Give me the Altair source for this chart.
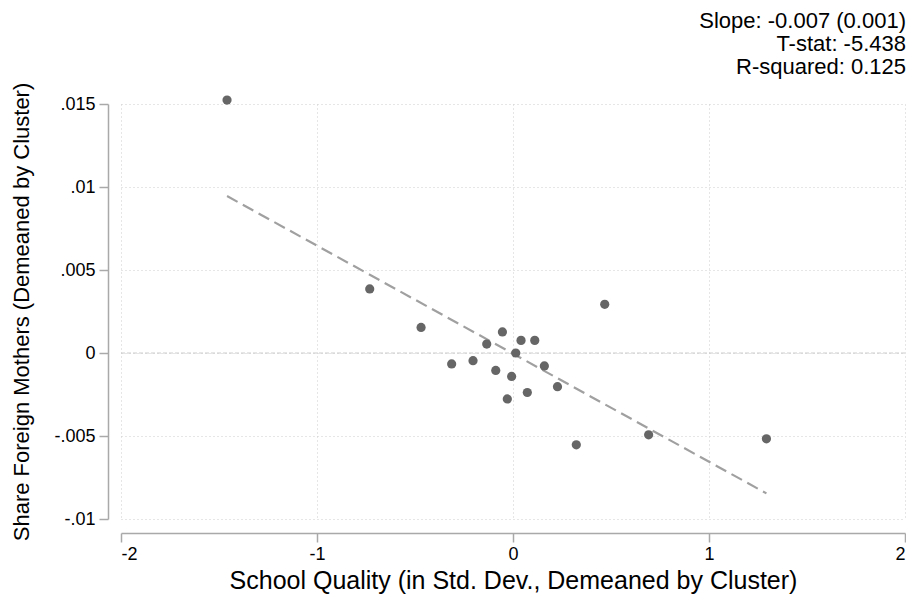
import altair as alt
import pandas as pd

# Data
school_quality = [-1.459, -0.731, -0.469, -0.313, -0.204, -0.134, -0.088, -0.054,
                  -0.029, -0.007, 0.014, 0.041, 0.073, 0.111, 0.160, 0.227,
                  0.323, 0.468, 0.692, 1.293]
share_foreign = [0.01524, 0.00386, 0.00154, -0.00066, -0.00046, 0.00054, -0.00105,
                 0.00127, -0.00277, -0.00141, 0.0, 0.00076, -0.00238, 0.00076,
                 -0.00078, -0.00203, -0.00553, 0.00293, -0.00493, -0.00517]
stats_lines = ["Slope: -0.007 (0.001)", "T-stat: -5.438", "R-squared: 0.125"]
x_ticks = [-2, -1, 0, 1, 2]
y_ticks = [-0.01, -0.005, 0, 0.005, 0.01, 0.015]
zero_line = [0]

FONT = "Liberation Sans"
AXIS_GRAY = "#a9a9a9"
GRID_GRAY = "#cccccc"

df = pd.DataFrame({"x": school_quality, "y": share_foreign})
zdf = pd.DataFrame({"y": zero_line})

xscale = alt.Scale(domain=[-2, 2], nice=False, zero=False)
yscale = alt.Scale(domain=[-0.01, 0.015], nice=False, zero=False)

xaxis = alt.Axis(
    values=x_ticks,
    title="School Quality (in Std. Dev., Demeaned by Cluster)",
    labelExpr="toString(datum.value)",
    offset=14, tickSize=9, tickWidth=1.5, domainWidth=1.5,
    domainColor=AXIS_GRAY, tickColor=AXIS_GRAY,
    grid=True, gridColor=GRID_GRAY, gridDash=[1, 3], gridWidth=1,
    labelFont=FONT, labelFontSize=18, labelColor="#000000", labelPadding=3,
    titleFont=FONT, titleFontSize=25, titleFontWeight="normal", titleColor="#000000",
    titleBaseline="alphabetic", titleY=55,
)
yaxis = alt.Axis(
    values=y_ticks,
    title="Share Foreign Mothers (Demeaned by Cluster)",
    labelExpr="(datum.value < 0 ? '-' : '') + (datum.value == 0 ? '0' : substring(toString(abs(datum.value)), 1))",
    offset=13, tickSize=9, tickWidth=1.5, domainWidth=1.5,
    domainColor=AXIS_GRAY, tickColor=AXIS_GRAY,
    grid=True, gridColor=GRID_GRAY, gridDash=[1, 3], gridWidth=1,
    labelFont=FONT, labelFontSize=18, labelColor="#000000", labelPadding=4,
    titleFont=FONT, titleFontSize=22, titleFontWeight="normal", titleColor="#000000",
    titlePadding=20,
)

base = alt.Chart(df)

zero = alt.Chart(zdf).mark_rule(color=GRID_GRAY, strokeDash=[4, 2], strokeWidth=1).encode(
    y=alt.Y("y:Q", scale=yscale)
)

fit = base.transform_regression("x", "y").mark_line(
    color="#a0a0a0", strokeWidth=2.2, strokeDash=[12, 6]
).encode(
    x=alt.X("x:Q", scale=xscale, axis=xaxis),
    y=alt.Y("y:Q", scale=yscale, axis=yaxis),
)

points = base.mark_circle(size=85, color="#666666", opacity=1).encode(
    x=alt.X("x:Q", scale=xscale, axis=xaxis),
    y=alt.Y("y:Q", scale=yscale, axis=yaxis),
)

chart = alt.layer(zero, fit, points).properties(
    width=784,
    height=415,
    autosize=alt.AutoSizeParams(type="none"),
    padding={"left": 113, "top": 96, "right": 1, "bottom": 75},
    title=alt.TitleParams(
        text=stats_lines, anchor="end", align="right", font=FONT, fontSize=22,
        fontWeight="normal", color="#000000", lineHeight=23, offset=3, dx=1,
        frame="group",
    ),
).configure_view(stroke=None)

chart.save("out.html", embed_options={"renderer": "svg", "actions": False})
